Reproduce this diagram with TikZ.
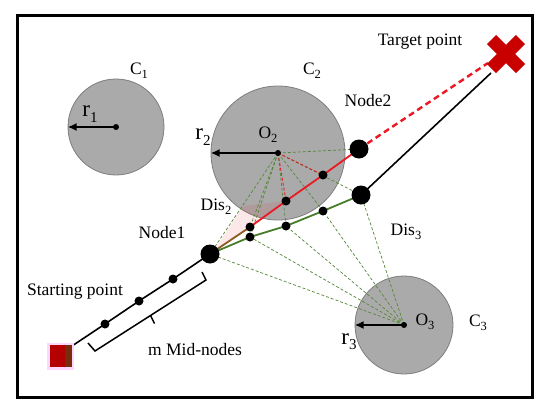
\documentclass[tikz,border=0pt]{standalone}
\usepackage{fontspec}
\setmainfont{Liberation Serif}
\usetikzlibrary{arrows.meta}
\definecolor{cgray}{RGB}{170,170,170}
\definecolor{cedge}{RGB}{125,125,125}
\definecolor{dgreen}{RGB}{85,135,55}
\definecolor{pgreen}{RGB}{70,125,40}
\definecolor{lred}{RGB}{235,25,35}
\definecolor{xred}{RGB}{200,0,0}
\definecolor{brn}{RGB}{140,90,30}
\definecolor{sqred}{RGB}{180,0,0}
\definecolor{sqbrn}{RGB}{120,45,10}
\definecolor{halo}{RGB}{255,215,255}
\newcommand{\sbs}[1]{\raisebox{-0.5ex}{\fontsize{12.5}{12.5}\selectfont #1}}
\newcommand{\sbr}[1]{\raisebox{-0.5ex}{\fontsize{15}{15}\selectfont #1}}
\pgfdeclarelayer{bg}\pgfdeclarelayer{mid}\pgfsetlayers{bg,mid,main}
\begin{document}
\begin{tikzpicture}[x=1pt,y={(0pt,-1pt)},
 lbl/.style={font=\fontsize{17.5}{20}\selectfont, inner sep=0},
 rlbl/.style={font=\fontsize{23}{25}\selectfont, inner sep=0},
 obst/.style={circle,fill=cgray,draw=cedge,line width=0.8pt,inner sep=0},
 bigdot/.style={circle,fill=black,inner sep=0,minimum size=19pt},
 smalldot/.style={circle,fill=black,inner sep=0,minimum size=9pt},
 ctrdot/.style={circle,fill=black,inner sep=0,minimum size=6pt},
 gdash/.style={draw=dgreen,line width=0.7pt,dash pattern=on 3pt off 2pt},
 rdash/.style={draw=lred,line width=0.9pt,dash pattern=on 3pt off 2pt},
 radarrow/.style={-{Latex[length=9pt,width=8pt]},line width=1.8pt}
]
\useasboundingbox (0,0) rectangle (550,413);
\draw[line width=3pt] (17,15) rectangle (532,397);

% obstacles
\begin{pgfonlayer}{bg}
\node[obst,minimum size=96pt] (c1) at (116,127) {};
\node[obst,minimum size=134pt] (c2) at (278,153) {};
\node[obst,minimum size=98pt] (c3) at (404,325) {};
\fill[lred,opacity=0.10] (214,251) -- (286,201) -- (243,206) -- cycle;
\end{pgfonlayer}

% centres
\node[ctrdot] (o1) at (116,127) {};
\node[ctrdot] (o2) at (278,153) {};
\node[ctrdot] (o3) at (404,325) {};

% path nodes
\node[bigdot] (n1) at (210,254) {};
\node[bigdot] (n2) at (359,149) {};
\node[bigdot] (n3) at (361,195) {};
\node[smalldot] (u1) at (250,227) {};
\node[smalldot] (u2) at (286,201) {};
\node[smalldot] (u3) at (323,175) {};
\node[smalldot] (l1) at (250,237) {};
\node[smalldot] (l2) at (286,226) {};
\node[smalldot] (l3) at (323,211) {};
\node[smalldot] (m1) at (105,324) {};
\node[smalldot] (m2) at (139,301) {};
\node[smalldot] (m3) at (173,279) {};
\coordinate (tA) at (488,63);
\coordinate (tB) at (491,73);

\begin{pgfonlayer}{mid}
% distance lines
\foreach \p in {n1,u1,l1,l2,l3,n3,n2}{\draw[gdash] (o2.center) -- (\p.center);}
\foreach \p in {u2,u3}{\draw[rdash] (o2.center) -- (\p.center);}
\foreach \p in {n1,l1,l2,l3,n3}{\draw[gdash] (o3.center) -- (\p.center);}
% paths
\draw[line width=1.6pt] (66,350) -- (m1.center) -- (m2.center) -- (m3.center) -- (n1.center);
\draw[brn,line width=1.8pt] (n1.center) -- (u1.center);
\draw[lred,line width=1.8pt] (u1.center) -- (u2.center) -- (u3.center) -- (n2.center);
\draw[pgreen,line width=1.8pt] (n1.center) -- (l1.center) -- (l2.center) -- (l3.center) -- (n3.center);
\draw[lred,line width=2.4pt,dash pattern=on 6pt off 4pt] (n2.center) -- (tA);
\draw[line width=1.6pt] (n3.center) -- (tB);
\end{pgfonlayer}

% start square
\node[fill=halo,minimum size=27pt,inner sep=0] (s) at (60.5,356) {};
\fill[sqred] (50,345) rectangle (72,367);
\fill[sqbrn] (65,345) rectangle (72,367);

% target cross
\node[minimum size=38pt,inner sep=0] (t) at (506,54) {};
\draw[xred,line width=13pt] (491.5,39.5) -- (520.5,68.5) (491.5,68.5) -- (520.5,39.5);

% radii
\draw[radarrow] (o1.center) -- (c1.west);
\draw[radarrow] (o2.center) -- (c2.west);
\draw[radarrow] (o3.center) -- (c3.west);

% bracket
\draw[line width=1.5pt] (88,343) -- (95,351) -- (206,280) -- (202,272);
\draw[line width=1.5pt] (150.5,315.5) -- (154.5,323.5);

% labels
\node[lbl] at (139,71) {C\sbs{1}};
\node[rlbl] at (90,114) {r\sbr{1}};
\node[lbl] at (312,71) {C\sbs{2}};
\node[lbl] at (268,135) {O\sbs{2}};
\node[rlbl] at (203,137) {r\sbr{2}};
\node[lbl] at (368,101) {Node2};
\node[lbl] at (420,42) {Target point};
\node[lbl] at (216,207) {Dis\sbs{2}};
\node[lbl] at (162,233) {Node1};
\node[lbl] at (75,292) {Starting point};
\node[lbl] at (195,350) {m Mid-nodes};
\node[lbl] at (406,232) {Dis\sbs{3}};
\node[lbl] at (425,322) {O\sbs{3}};
\node[lbl] at (478,323) {C\sbs{3}};
\node[rlbl] at (349,342) {r\sbr{3}};
\end{tikzpicture}
\end{document}
